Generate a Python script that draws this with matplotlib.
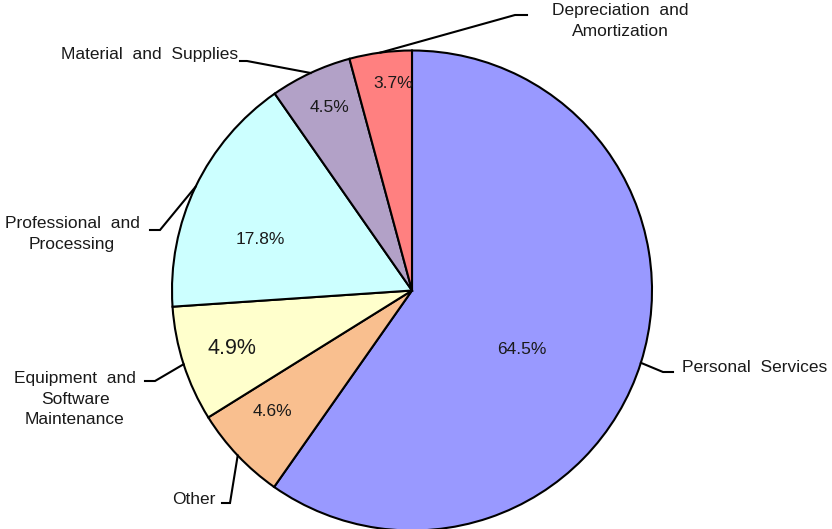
import numpy as np
import matplotlib
matplotlib.use("Agg")
import matplotlib.pyplot as plt

categories = ["Personal  Services", "Other", "Equipment  and\nSoftware\nMaintenance",
              "Professional  and\nProcessing", "Material  and  Supplies", "Depreciation  and\nAmortization"]
shares = [59.8, 6.4, 7.8, 16.4, 5.5, 4.2]
# percentages printed on the wedges
pct_labels = ["64.5%", "4.6%", "4.9%", "17.8%", "4.5%", "3.7%"]
colors = ["#9999FF", "#F9BF8F", "#FFFFCC", "#CCFFFF", "#B2A1C7", "#FF8080"]

plt.rcParams.update({
    "font.family": ["Liberation Sans", "DejaVu Sans"],
    "font.size": 12.5,
})

W, H, CX, CY, R = 832, 529, 412, 290.5, 240.0


def px(x, y):
    # pixel position -> data coordinates (pie of radius 1 at centre)
    return (x - CX) / R, (CY - y) / R


fig = plt.figure(figsize=(W / 100, H / 100), dpi=100)
ax = fig.add_axes([0, 0, 1, 1])
ax.set_axis_off()

wedges, _ = ax.pie(shares, colors=colors, startangle=90, counterclock=False,
                   radius=1.0, wedgeprops={"edgecolor": "black", "linewidth": 1.5})

ax.set_xlim(px(0, 0)[0], px(W, 0)[0])
ax.set_ylim(px(0, H)[1], px(0, 0)[1])
ax.set_aspect("auto")

# percent labels inside wedges
pct_pos = [(522, 350), (272, 412), (232, 348), (260, 239), (330, 108), (393, 83)]
pct_size = [12.5, 12.5, 15.5, 12.5, 12.5, 12.5]
for lab, (x, y), fs in zip(pct_labels, pct_pos, pct_size):
    ax.text(*px(x, y), lab, ha="center", va="center", fontsize=fs, color="#1a1a1a")

# category labels with leader lines (elbow, end of horizontal stub, text pos, alignment)
leaders = [
    ((663, 372), (673, 372), (682, 367), "left"),
    ((230, 503), (222, 503), (216, 499), "right"),
    ((155, 381), (145, 381), (75, 399), "center"),
    ((160, 230), (150, 230), (72, 234), "center"),
    ((247, 61), (240, 61), (150, 54), "center"),
    ((515, 15), (527, 15), (620, 21), "center"),
]
for w, cat, (elbow, end, tpos, ha) in zip(wedges, categories, leaders):
    mid = np.deg2rad((w.theta1 + w.theta2) / 2)
    ex, ey = np.cos(mid), np.sin(mid)
    bx, by = px(*elbow)
    sx, sy = px(*end)
    ax.plot([ex, bx, sx], [ey, by, sy], color="black", lw=1.5, solid_joinstyle="miter")
    ax.text(*px(*tpos), cat, ha=ha, va="center", multialignment="center",
            linespacing=1.5, color="#1a1a1a")

fig.savefig("out.png", dpi=100)
